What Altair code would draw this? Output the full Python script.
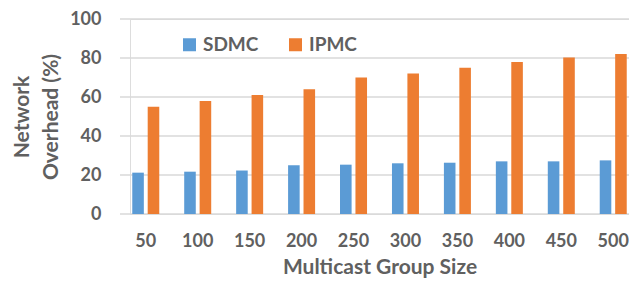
import altair as alt
import pandas as pd

sizes = ["50", "100", "150", "200", "250", "300", "350", "400", "450", "500"]
sdmc = [21.2, 21.7, 22.3, 25.0, 25.3, 26.0, 26.3, 27.0, 27.0, 27.5]
ipmc = [55.0, 58.0, 61.0, 64.0, 70.0, 72.0, 75.0, 78.0, 80.2, 82.0]
series = ["SDMC", "IPMC"]
colors = ["#5B9BD5", "#ED7D31"]
y_ticks = [0, 20, 40, 60, 80, 100]

rows = []
for i, s in enumerate(sizes):
    rows.append({"size": s, "method": "SDMC", "value": sdmc[i]})
    rows.append({"size": s, "method": "IPMC", "value": ipmc[i]})
df = pd.DataFrame(rows)
grid_df = pd.DataFrame({"value": y_ticks})

FONT = "Lato"
TXT = "#606060"
W = 499
H = 195

yscale = alt.Scale(domain=[0, 100])
yaxis = alt.Axis(title=["Network", "Overhead (%)"], values=y_ticks,
                 labelFontSize=18, labelFontWeight="bold", labelColor=TXT,
                 labelPadding=29, ticks=False, domain=False, grid=False,
                 titleFontSize=21, titleFontWeight="bold", titleColor=TXT,
                 titlePadding=8, titleLineHeight=29,
                 labelFont=FONT, titleFont=FONT)

grid = alt.Chart(grid_df).mark_rule(color="#D9D9D9", strokeWidth=1.5).encode(
    y=alt.Y("value:Q", scale=yscale, axis=yaxis),
    x=alt.value(-10),
    x2=alt.value(W + 10),
)

bars = alt.Chart(df).mark_bar().encode(
    x=alt.X("size:N", sort=sizes,
            scale=alt.Scale(paddingInner=0.48, paddingOuter=0.0435),
            axis=alt.Axis(title="Multicast Group Size", labelAngle=0,
                          labelFontSize=18, labelFontWeight="bold", labelColor=TXT,
                          labelPadding=18, ticks=False, domain=False,
                          titleFontSize=21, titleFontWeight="bold", titleColor=TXT,
                          titlePadding=6, labelFont=FONT, titleFont=FONT)),
    xOffset=alt.XOffset("method:N", sort=series,
                        scale=alt.Scale(paddingInner=0.25, paddingOuter=0)),
    y=alt.Y("value:Q", scale=yscale, axis=yaxis),
    color=alt.Color("method:N", sort=series,
                    scale=alt.Scale(domain=series, range=colors),
                    legend=alt.Legend(title=None, orient="none", direction="horizontal",
                                      legendX=50, legendY=16,
                                      symbolType="square", symbolSize=169,
                                      symbolStrokeWidth=0,
                                      labelFontSize=19, labelFontWeight="bold",
                                      labelColor=TXT, labelFont=FONT,
                                      columnPadding=27, labelOffset=4)),
)

chart = alt.layer(grid, bars).properties(
    width=W, height=H,
    autosize=alt.AutoSizeParams(type="none"),
    padding={"left": 122, "top": 11, "right": 0, "bottom": 64},
).configure_view(stroke=None).configure(background="white")

chart.save("out.html", embed_options={"renderer": "svg", "actions": False})
